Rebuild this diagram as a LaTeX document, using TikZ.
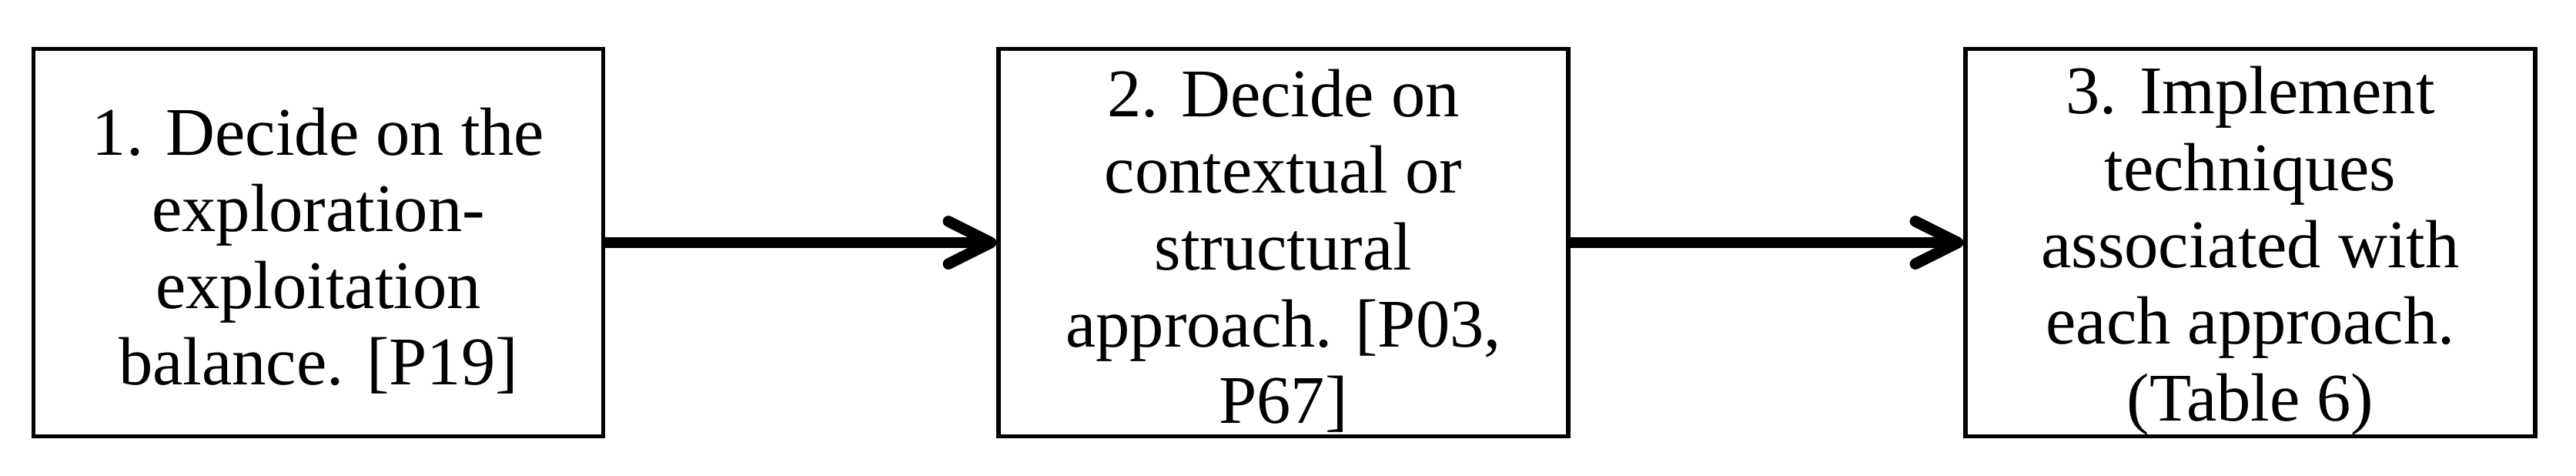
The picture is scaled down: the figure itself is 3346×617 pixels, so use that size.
\documentclass[tikz,border=0pt]{standalone}
\usepackage{fontspec}
\setmainfont{Liberation Serif}
\usepackage{tikz}
\usetikzlibrary{arrows.meta}

\begin{document}
\begin{tikzpicture}[x=0.1446pt,y=-0.1446pt,
            stepbox/.style={draw=black, line width=0.75pt, minimum width=107pt, minimum height=72.8pt, inner sep=0pt, align=center, font=\fontsize{12.8}{14.4}\selectfont},
            flow/.style={line width=2.1pt, -{Straight Barb[length=8pt,width=8pt,round]}}]
            \useasboundingbox (0,0) rectangle (3346,617);
            \node [stepbox] (s1) at (413.5,315) {\rule{0pt}{12pt}1. Decide on the\\exploration-\\exploitation\\balance. [P19]};
            \node [stepbox] (s2) at (1667,315) {\rule{0pt}{12pt}2. Decide on\\contextual or\\structural\\approach. [P03,\\P67]};
            \node [stepbox] (s3) at (2923,315) {\rule{0pt}{12pt}3. Implement\\techniques\\associated with\\each approach.\\(Table 6)};
            \draw [flow] (s1) -- (s2);
            \draw [flow] (s2) -- (s3);
        \end{tikzpicture}
\end{document}
